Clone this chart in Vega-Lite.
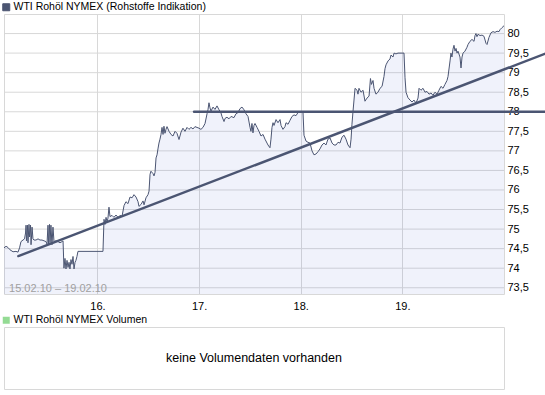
{
  "$schema": "https://vega.github.io/schema/vega-lite/v6.json",
  "background": "white",
  "padding": {"left": 0, "top": 1, "right": 0, "bottom": 0},
  "spacing": 2,
  "config": {
    "font": "Liberation Sans",
    "view": {"stroke": "#d8d8d8", "strokeWidth": 1},
    "axis": {"domain": false, "ticks": false, "gridColor": "#d8d8d8", "gridWidth": 1, "gridOpacity": 1, "labelFont": "Liberation Sans", "labelFontSize": 11, "labelColor": "#000000", "title": null},
    "legend": {"orient": "none", "legendX": -3, "legendY": -12, "title": null, "symbolType": "square", "symbolSize": 49, "labelFont": "Liberation Sans", "labelFontSize": 10.5, "labelColor": "#000000", "labelOffset": 2, "padding": 0, "labelLimit": 0}
  },
  "resolve": {"scale": {"color": "independent"}, "legend": {"color": "independent"}},
  "datasets": {
    "gitter": [
      {"p": 73.5}, {"p": 74}, {"p": 74.5}, {"p": 75}, {"p": 75.5}, {"p": 76}, {"p": 76.5}, {"p": 77}, {"p": 77.5}, {"p": 78}, {"p": 78.5}, {"p": 79}, {"p": 79.5}, {"p": 80}
    ],
    "price": [
      {"d":15.080,"p":74.52},{"d":15.100,"p":74.56},{"d":15.119,"p":74.53},{"d":15.139,"p":74.47},{"d":15.169,"p":74.42},{"d":15.198,"p":74.43},{"d":15.218,"p":74.41},{"d":15.233,"p":74.52},{"d":15.247,"p":74.68},{"d":15.267,"p":74.72},{"d":15.282,"p":74.75},{"d":15.292,"p":74.9},{"d":15.297,"p":75.1},{"d":15.301,"p":74.7},{"d":15.311,"p":75.1},{"d":15.316,"p":74.65},{"d":15.326,"p":75.12},{"d":15.331,"p":74.8},{"d":15.341,"p":75.1},{"d":15.346,"p":74.6},{"d":15.356,"p":75.05},{"d":15.365,"p":74.75},{"d":15.375,"p":74.72},{"d":15.395,"p":74.72},{"d":15.415,"p":74.75},{"d":15.434,"p":74.72},{"d":15.454,"p":74.72},{"d":15.474,"p":74.7},{"d":15.493,"p":74.68},{"d":15.503,"p":74.62},{"d":15.513,"p":75.1},{"d":15.518,"p":74.6},{"d":15.528,"p":75.12},{"d":15.533,"p":74.65},{"d":15.542,"p":75.1},{"d":15.552,"p":74.6},{"d":15.562,"p":75.05},{"d":15.572,"p":74.68},{"d":15.592,"p":74.7},{"d":15.611,"p":74.68},{"d":15.631,"p":74.65},{"d":15.651,"p":74.68},{"d":15.661,"p":74.7},{"d":15.670,"p":74.0},{"d":15.680,"p":74.25},{"d":15.690,"p":73.98},{"d":15.700,"p":74.2},{"d":15.710,"p":74.02},{"d":15.720,"p":74.15},{"d":15.729,"p":73.98},{"d":15.739,"p":74.22},{"d":15.749,"p":74.1},{"d":15.759,"p":74.3},{"d":15.769,"p":73.98},{"d":15.779,"p":74.15},{"d":15.788,"p":74.2},{"d":15.798,"p":74.3},{"d":15.808,"p":74.43},{"d":16.054,"p":74.43},
      {"d":16.064,"p":75.25},{"d":16.074,"p":75.12},{"d":16.084,"p":75.3},{"d":16.094,"p":75.18},{"d":16.103,"p":75.28},{"d":16.113,"p":75.56},{"d":16.123,"p":75.32},{"d":16.143,"p":75.35},{"d":16.162,"p":75.3},{"d":16.182,"p":75.36},{"d":16.202,"p":75.3},{"d":16.221,"p":75.35},{"d":16.241,"p":75.32},{"d":16.261,"p":75.6},{"d":16.280,"p":75.7},{"d":16.300,"p":75.65},{"d":16.320,"p":75.82},{"d":16.340,"p":75.8},{"d":16.359,"p":75.88},{"d":16.379,"p":75.82},{"d":16.399,"p":75.7},{"d":16.408,"p":75.58},{"d":16.428,"p":75.63},{"d":16.448,"p":75.72},{"d":16.458,"p":75.62},{"d":16.477,"p":75.8},{"d":16.497,"p":75.88},{"d":16.507,"p":75.97},{"d":16.517,"p":76.4},{"d":16.526,"p":76.48},{"d":16.546,"p":76.42},{"d":16.556,"p":76.36},{"d":16.566,"p":76.45},{"d":16.576,"p":76.82},{"d":16.586,"p":76.9},{"d":16.595,"p":77.05},{"d":16.605,"p":77.2},{"d":16.615,"p":77.3},{"d":16.625,"p":77.42},{"d":16.635,"p":77.6},{"d":16.645,"p":77.42},{"d":16.654,"p":77.63},{"d":16.664,"p":77.45},{"d":16.674,"p":77.55},{"d":16.684,"p":77.62},{"d":16.704,"p":77.5},{"d":16.723,"p":77.42},{"d":16.743,"p":77.38},{"d":16.763,"p":77.5},{"d":16.782,"p":77.45},{"d":16.802,"p":77.29},{"d":16.822,"p":77.48},{"d":16.841,"p":77.58},{"d":16.861,"p":77.5},{"d":16.881,"p":77.6},{"d":16.900,"p":77.55},{"d":16.920,"p":77.6},{"d":16.940,"p":77.56},{"d":16.959,"p":77.62},{"d":16.979,"p":77.6},{"d":16.999,"p":77.58},{"d":17.018,"p":77.55},{"d":17.038,"p":77.6},{"d":17.058,"p":77.7},{"d":17.078,"p":77.95},{"d":17.087,"p":78.05},{"d":17.097,"p":78.23},{"d":17.107,"p":78.1},
      {"d":17.117,"p":78.02},{"d":17.137,"p":78.12},{"d":17.156,"p":78.06},{"d":17.176,"p":78.15},{"d":17.196,"p":78.05},{"d":17.215,"p":77.97},{"d":17.225,"p":77.88},{"d":17.245,"p":77.75},{"d":17.255,"p":77.83},{"d":17.274,"p":77.86},{"d":17.294,"p":77.82},{"d":17.314,"p":77.88},{"d":17.343,"p":77.85},{"d":17.363,"p":77.95},{"d":17.383,"p":77.98},{"d":17.402,"p":78.08},{"d":17.422,"p":78.12},{"d":17.442,"p":78.05},{"d":17.461,"p":77.95},{"d":17.481,"p":77.88},{"d":17.501,"p":77.6},{"d":17.510,"p":77.5},{"d":17.520,"p":77.7},{"d":17.530,"p":77.46},{"d":17.540,"p":77.65},{"d":17.550,"p":77.7},{"d":17.570,"p":77.6},{"d":17.589,"p":77.5},{"d":17.609,"p":77.38},{"d":17.629,"p":77.42},{"d":17.648,"p":77.3},{"d":17.668,"p":77.2},{"d":17.678,"p":77.15},{"d":17.697,"p":77.08},{"d":17.707,"p":77.3},{"d":17.717,"p":77.6},{"d":17.727,"p":77.72},{"d":17.737,"p":77.65},{"d":17.757,"p":77.8},{"d":17.776,"p":77.72},{"d":17.796,"p":77.8},{"d":17.806,"p":77.65},{"d":17.825,"p":77.55},{"d":17.845,"p":77.62},{"d":17.855,"p":77.72},{"d":17.875,"p":77.68},{"d":17.894,"p":77.78},{"d":17.914,"p":77.88},{"d":17.934,"p":77.92},{"d":17.953,"p":77.9},{"d":17.973,"p":77.98},{"d":18.002,"p":78.0},{"d":18.022,"p":78.0},{"d":18.032,"p":77.4},{"d":18.052,"p":77.25},{"d":18.071,"p":77.22},{"d":18.091,"p":77.2},{"d":18.111,"p":77.0},{"d":18.130,"p":76.9},{"d":18.150,"p":76.92},{"d":18.170,"p":76.98},{"d":18.189,"p":77.05},{"d":18.209,"p":77.15},{"d":18.229,"p":77.2},{"d":18.248,"p":77.15},{"d":18.268,"p":77.3},{"d":18.288,"p":77.33},{"d":18.308,"p":77.2},{"d":18.327,"p":77.15},{"d":18.347,"p":77.15},{"d":18.367,"p":77.22},{"d":18.386,"p":77.2},{"d":18.406,"p":77.35},{"d":18.426,"p":77.4},{"d":18.445,"p":77.3},{"d":18.465,"p":77.15},{"d":18.485,"p":77.08},{"d":18.495,"p":77.3},{"d":18.504,"p":77.68},{"d":18.514,"p":78.0},{"d":18.524,"p":78.3},
      {"d":18.534,"p":78.6},{"d":18.554,"p":78.55},{"d":18.563,"p":78.45},{"d":18.573,"p":78.6},{"d":18.593,"p":78.5},{"d":18.613,"p":78.55},{"d":18.632,"p":78.27},{"d":18.652,"p":78.35},{"d":18.672,"p":78.4},{"d":18.686,"p":78.85},{"d":18.696,"p":78.7},{"d":18.711,"p":78.8},{"d":18.721,"p":78.6},{"d":18.740,"p":78.45},{"d":18.760,"p":78.5},{"d":18.780,"p":78.6},{"d":18.800,"p":78.65},{"d":18.819,"p":78.9},{"d":18.829,"p":79.1},{"d":18.839,"p":79.2},{"d":18.859,"p":79.3},{"d":18.878,"p":79.35},{"d":18.888,"p":79.45},{"d":18.908,"p":79.4},{"d":18.918,"p":79.5},{"d":18.937,"p":79.48},{"d":18.957,"p":79.5},{"d":18.987,"p":79.5},{"d":19.016,"p":79.5},{"d":19.026,"p":78.87},{"d":19.036,"p":78.5},{"d":19.055,"p":78.36},{"d":19.075,"p":78.3},{"d":19.095,"p":78.25},{"d":19.114,"p":78.3},{"d":19.134,"p":78.22},{"d":19.154,"p":78.35},{"d":19.164,"p":78.6},{"d":19.183,"p":78.55},{"d":19.203,"p":78.6},{"d":19.223,"p":78.5},{"d":19.242,"p":78.52},{"d":19.262,"p":78.45},{"d":19.282,"p":78.48},{"d":19.301,"p":78.42},{"d":19.321,"p":78.5},{"d":19.341,"p":78.45},{"d":19.360,"p":78.55},{"d":19.380,"p":78.65},{"d":19.400,"p":78.6},{"d":19.419,"p":78.7},{"d":19.439,"p":78.8},{"d":19.449,"p":78.9},{"d":19.469,"p":79.3},{"d":19.478,"p":79.5},{"d":19.488,"p":79.4},{"d":19.498,"p":79.6},{"d":19.508,"p":79.7},{"d":19.518,"p":79.55},{"d":19.528,"p":79.62},{"d":19.538,"p":79.5},{"d":19.547,"p":79.55},{"d":19.567,"p":79.4},{"d":19.577,"p":79.12},{"d":19.587,"p":79.4},{"d":19.597,"p":79.5},{"d":19.616,"p":79.55},{"d":19.636,"p":79.65},{"d":19.646,"p":79.72},{"d":19.665,"p":79.8},{"d":19.685,"p":79.85},{"d":19.705,"p":79.8},{"d":19.715,"p":79.95},{"d":19.724,"p":80.0},{"d":19.734,"p":79.92},{"d":19.744,"p":79.98},{"d":19.764,"p":79.95},{"d":19.784,"p":79.96},{"d":19.803,"p":79.93},{"d":19.823,"p":79.75},{"d":19.833,"p":79.72},{"d":19.852,"p":79.9},{"d":19.872,"p":80.02},{"d":19.892,"p":80.05},{"d":19.911,"p":80.03},{"d":19.931,"p":80.06},{"d":19.951,"p":80.05},{"d":19.961,"p":80.1},{"d":19.980,"p":80.15},{"d":20.000,"p":80.2}
    ]
  },
  "vconcat": [
    {
      "width": 500,
      "height": 280,
      "view": {"stroke": "#d8d8d8"},
      "layer": [
        {
          "data": {"name": "gitter"},
          "mark": {"type": "rule", "color": "#d8d8d8", "strokeWidth": 1},
          "encoding": {
            "y": {"field": "p", "type": "quantitative", "scale": {"domain": [73.34, 80.5], "nice": false, "zero": false},
                  "axis": {"orient": "right", "values": [73.5, 74, 74.5, 75, 75.5, 76, 76.5, 77, 77.5, 78, 78.5, 79, 79.5, 80],
                           "labelExpr": "replace(format(datum.value, '.1~f'), '.', ',')", "labelPadding": 3, "grid": false, "labelOverlap": false, "labelFlush": false}}
          }
        },
        {
          "data": {"name": "price"},
          "mark": {"type": "area", "color": "#3a5fcd", "fillOpacity": 0.08},
          "encoding": {
            "x": {"field": "d", "type": "quantitative", "scale": {"domain": [15.08, 20.0], "nice": false, "zero": false},
                  "axis": {"values": [16, 17, 18, 19], "labelExpr": "datum.value + '.'", "labelPadding": 6, "grid": true, "labelOverlap": false, "labelFlush": false}},
            "y": {"field": "p", "type": "quantitative", "scale": {"domain": [73.34, 80.5], "nice": false, "zero": false},
                  "axis": {"orient": "right", "values": [73.5, 74, 74.5, 75, 75.5, 76, 76.5, 77, 77.5, 78, 78.5, 79, 79.5, 80],
                           "labelExpr": "replace(format(datum.value, '.1~f'), '.', ',')", "labelPadding": 3, "grid": false, "labelOverlap": false, "labelFlush": false}},
            "y2": {"datum": 73.34}
          }
        },
        {
          "data": {"name": "price"},
          "mark": {"type": "line", "color": "#4b5572", "strokeWidth": 1},
          "encoding": {
            "x": {"field": "d", "type": "quantitative", "scale": {"domain": [15.08, 20.0], "nice": false, "zero": false},
                  "axis": {"values": [16, 17, 18, 19], "labelExpr": "datum.value + '.'", "labelPadding": 6, "grid": true, "labelOverlap": false, "labelFlush": false}},
            "y": {"field": "p", "type": "quantitative", "scale": {"domain": [73.34, 80.5], "nice": false, "zero": false},
                  "axis": {"orient": "right", "values": [73.5, 74, 74.5, 75, 75.5, 76, 76.5, 77, 77.5, 78, 78.5, 79, 79.5, 80],
                           "labelExpr": "replace(format(datum.value, '.1~f'), '.', ',')", "labelPadding": 3, "grid": false, "labelOverlap": false, "labelFlush": false}}
          }
        },
        {
          "data": {"values": [
            {"line": "Trend", "d": 15.221, "p": 74.31, "s": "WTI Rohöl NYMEX (Rohstoffe Indikation)"},
            {"line": "Trend", "d": 20.41, "p": 79.49, "s": "WTI Rohöl NYMEX (Rohstoffe Indikation)"},
            {"line": "Widerstand", "d": 16.95, "p": 78.0, "s": "WTI Rohöl NYMEX (Rohstoffe Indikation)"},
            {"line": "Widerstand", "d": 20.41, "p": 78.0, "s": "WTI Rohöl NYMEX (Rohstoffe Indikation)"}
          ]},
          "mark": {"type": "line", "strokeWidth": 2.5, "clip": false, "strokeCap": "round"},
          "encoding": {
            "x": {"field": "d", "type": "quantitative", "scale": {"domain": [15.08, 20.0], "nice": false, "zero": false},
                  "axis": {"values": [16, 17, 18, 19], "labelExpr": "datum.value + '.'", "labelPadding": 6, "grid": true, "labelOverlap": false, "labelFlush": false}},
            "y": {"field": "p", "type": "quantitative", "scale": {"domain": [73.34, 80.5], "nice": false, "zero": false},
                  "axis": {"orient": "right", "values": [73.5, 74, 74.5, 75, 75.5, 76, 76.5, 77, 77.5, 78, 78.5, 79, 79.5, 80],
                           "labelExpr": "replace(format(datum.value, '.1~f'), '.', ',')", "labelPadding": 3, "grid": false, "labelOverlap": false, "labelFlush": false}},
            "detail": {"field": "line", "type": "nominal"},
            "color": {"field": "s", "type": "nominal", "scale": {"range": ["#4b5572"]},
                      "legend": {"symbolType": "square", "encode": {"symbols": {"update": {"fill": {"value": "#4b5572"}, "stroke": {"value": "#333333"}, "strokeWidth": {"value": 1}, "opacity": {"value": 1}}}}}}
          }
        },
        {
          "data": {"values": [{"d": 15.13, "p": 73.468, "t": "15.02.10 – 19.02.10"}]},
          "mark": {"type": "text", "align": "left", "baseline": "middle", "color": "#a0a0a0", "fontSize": 11},
          "encoding": {
            "x": {"field": "d", "type": "quantitative", "scale": {"domain": [15.08, 20.0], "nice": false, "zero": false},
                  "axis": {"values": [16, 17, 18, 19], "labelExpr": "datum.value + '.'", "labelPadding": 6, "grid": true, "labelOverlap": false, "labelFlush": false}},
            "y": {"field": "p", "type": "quantitative", "scale": {"domain": [73.34, 80.5], "nice": false, "zero": false},
                  "axis": {"orient": "right", "values": [73.5, 74, 74.5, 75, 75.5, 76, 76.5, 77, 77.5, 78, 78.5, 79, 79.5, 80],
                           "labelExpr": "replace(format(datum.value, '.1~f'), '.', ',')", "labelPadding": 3, "grid": false, "labelOverlap": false, "labelFlush": false}},
            "text": {"field": "t"}
          }
        }
      ]
    },
    {
      "width": 500,
      "height": 62,
      "view": {"stroke": "#d8d8d8"},
      "layer": [
        {
          "data": {"values": [{"msg": "keine Volumendaten vorhanden"}]},
          "mark": {"type": "text", "fontSize": 12.5, "color": "#000000", "baseline": "middle", "align": "center"},
          "encoding": {"text": {"field": "msg"}}
        },
        {
          "data": {"values": [{"s": "WTI Rohöl NYMEX Volumen"}]},
          "mark": {"type": "square", "size": 0},
          "encoding": {
            "color": {"field": "s", "type": "nominal", "scale": {"range": ["#66cc66"]},
                      "legend": {"encode": {"symbols": {"update": {"fill": {"value": "#66cc66"}, "stroke": {"value": "#333333"}, "strokeWidth": {"value": 1}, "opacity": {"value": 1}}}}}}
          }
        }
      ]
    }
  ]
}
